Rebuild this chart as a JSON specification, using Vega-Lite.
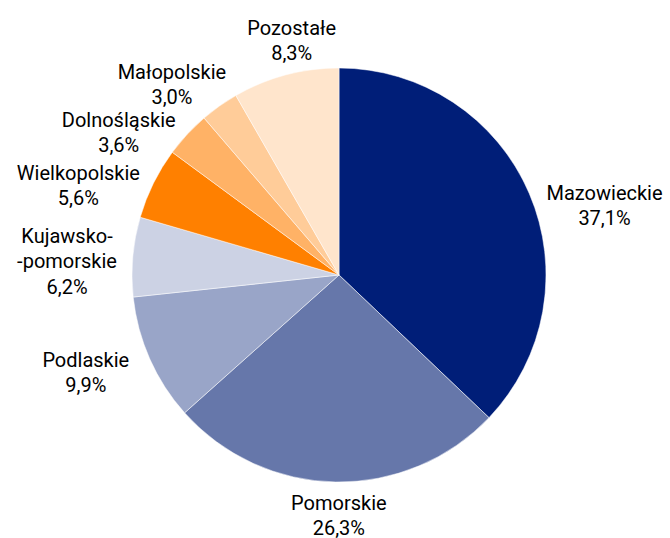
{
  "$schema": "https://vega.github.io/schema/vega-lite/v6.json",
  "width": 662,
  "height": 526,
  "padding": {"left": 8, "top": 12, "right": 0, "bottom": 0},
  "autosize": {"type": "none"},
  "background": "white",
  "config": {
    "view": {"stroke": null},
    "font": "Roboto",
    "text": {"fontSize": 20, "lineBreak": "\n", "lineHeight": 25.5, "align": "center", "baseline": "middle", "color": "#000000", "radius": 265}
  },
  "data": {
    "values": [
      {"nr": 1, "region": "Mazowieckie", "share": 37.1, "label": "Mazowieckie\n37,1%"},
      {"nr": 2, "region": "Pomorskie", "share": 26.3, "label": "Pomorskie\n26,3%"},
      {"nr": 3, "region": "Podlaskie", "share": 9.9, "label": "Podlaskie\n9,9%"},
      {"nr": 4, "region": "Kujawsko-pomorskie", "share": 6.2, "label": "Kujawsko-\n-pomorskie\n6,2%"},
      {"nr": 5, "region": "Wielkopolskie", "share": 5.6, "label": "Wielkopolskie\n5,6%"},
      {"nr": 6, "region": "Dolnośląskie", "share": 3.6, "label": "Dolnośląskie\n3,6%"},
      {"nr": 7, "region": "Małopolskie", "share": 3.0, "label": "Małopolskie\n3,0%"},
      {"nr": 8, "region": "Pozostałe", "share": 8.3, "label": "Pozostałe\n8,3%"}
    ]
  },
  "encoding": {
    "theta": {"field": "share", "type": "quantitative", "stack": true},
    "order": {"field": "nr", "type": "quantitative", "sort": "ascending"}
  },
  "layer": [
    {
      "mark": {"type": "arc", "outerRadius": 207, "stroke": "white", "strokeWidth": 0.5},
      "encoding": {
        "color": {
          "field": "region",
          "type": "nominal",
          "legend": null,
          "scale": {
            "domain": ["Mazowieckie", "Pomorskie", "Podlaskie", "Kujawsko-pomorskie", "Wielkopolskie", "Dolnośląskie", "Małopolskie", "Pozostałe"],
            "range": ["#001e78", "#6677aa", "#99a5c8", "#ccd2e4", "#ff8000", "#ffb266", "#ffcc99", "#ffe5cc"]
          }
        }
      }
    },
    {"mark": {"type": "text", "dx": 22, "dy": 23},
     "encoding": {"text": {"condition": {"test": "datum.nr === 1", "field": "label"}, "value": ""}}},
    {"mark": {"type": "text", "dx": 4, "dy": -36},
     "encoding": {"text": {"condition": {"test": "datum.nr === 2", "field": "label"}, "value": ""}}},
    {"mark": {"type": "text", "dx": -11, "dy": -22},
     "encoding": {"text": {"condition": {"test": "datum.nr === 3", "field": "label"}, "value": ""}}},
    {"mark": {"type": "text", "dx": -8, "dy": -15},
     "encoding": {"text": {"condition": {"test": "datum.nr === 4", "field": "label"}, "value": ""}}},
    {"mark": {"type": "text", "dx": -23, "dy": 16},
     "encoding": {"text": {"condition": {"test": "datum.nr === 5", "field": "label"}, "value": ""}}},
    {"mark": {"type": "text", "dx": -26, "dy": 26},
     "encoding": {"text": {"condition": {"test": "datum.nr === 6", "field": "label"}, "value": ""}}},
    {"mark": {"type": "text", "dx": -14, "dy": 14},
     "encoding": {"text": {"condition": {"test": "datum.nr === 7", "field": "label"}, "value": ""}}},
    {"mark": {"type": "text", "dx": 21, "dy": 10},
     "encoding": {"text": {"condition": {"test": "datum.nr === 8", "field": "label"}, "value": ""}}}
  ]
}
